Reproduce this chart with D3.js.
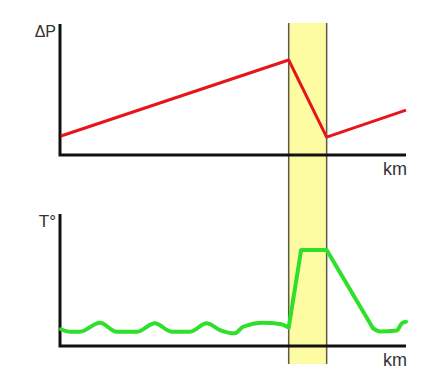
<!DOCTYPE html>
<html>
<head>
<meta charset="utf-8">
<script src="https://cdn.jsdelivr.net/npm/d3@7"></script>
<style>
  html, body { margin: 0; padding: 0; background: #fff; }
  #chart { width: 444px; height: 372px; }
</style>
</head>
<body>
<div id="chart"></div>
<script>
// distance along the route (0-100) and the shaded zone
const band = [66, 77];

// pressure difference (top panel)
const pressureKm = [0, 66, 77, 100];
const pressureVal = [1.45, 7.25, 1.37, 3.43];

// temperature (bottom panel), wavy part before the zone
const tempKmA = [0, 2.6, 5.5, 11.3, 16.1, 21.9, 27.2, 32.1, 37.4, 42.2, 46.1, 50.4, 52.8, 58.6, 63.5, 66];
const tempValA = [1.27, 1.08, 1.08, 1.77, 1.08, 1.08, 1.72, 1.08, 1.08, 1.72, 1.21, 0.96, 1.46, 1.77, 1.67, 1.4];
// the jump through the zone
const tempKmB = [66, 69.6, 77, 90.4];
const tempValB = [1.4, 7.27, 7.27, 1.36];
// tail after the zone
const tempKmC = [90.4, 92.5, 97.3, 98.8, 100];
const tempValC = [1.36, 1.1, 1.17, 1.72, 1.84];

const svg = d3.select('#chart')
  .append('svg')
  .attr('width', 444)
  .attr('height', 372);

const x = d3.scaleLinear().domain([0, 100]).range([61, 406]);
const yTop = d3.scaleLinear().domain([0, 10]).range([155, 24]);
const yBot = d3.scaleLinear().domain([0, 10]).range([346, 214]);

// yellow zone spanning both panels
svg.append('rect')
  .attr('x', x(band[0]))
  .attr('y', 23)
  .attr('width', x(band[1]) - x(band[0]))
  .attr('height', 364 - 23)
  .attr('fill', '#fdfca2');

band.forEach(b => {
  svg.append('line')
    .attr('x1', x(b)).attr('x2', x(b))
    .attr('y1', 23).attr('y2', 364)
    .attr('stroke', '#5e5a48')
    .attr('stroke-width', 1.5);
});

const zip = (xs, ys) => xs.map((d, i) => [d, ys[i]]);

function drawAxes(y, label, labelSize) {
  const [y0, y1] = y.range();
  svg.append('path')
    .attr('d', `M${x(0) - 1},${y1} V${y0} H${x(100)}`)
    .attr('fill', 'none')
    .attr('stroke', '#111')
    .attr('stroke-width', 3);

  svg.append('text')
    .attr('x', 56)
    .attr('y', y1 + 13)
    .attr('text-anchor', 'end')
    .style('font-family', 'Liberation Sans, Arial, sans-serif')
    .style('font-size', labelSize + 'px')
    .style('fill', '#333')
    .text(label);

  svg.append('text')
    .attr('x', x(100) + 1)
    .attr('y', y0 + 20)
    .attr('text-anchor', 'end')
    .style('font-family', 'Liberation Sans, Arial, sans-serif')
    .style('font-size', '18px')
    .style('fill', '#333')
    .text('km');
}

drawAxes(yTop, 'ΔP', 16);
drawAxes(yBot, 'T°', 17);

const lineTop = d3.line().x(d => x(d[0])).y(d => yTop(d[1]));
svg.append('path')
  .datum(zip(pressureKm, pressureVal))
  .attr('d', lineTop)
  .attr('fill', 'none')
  .attr('stroke', '#e8141b')
  .attr('stroke-width', 3)
  .attr('stroke-linejoin', 'round');

const smooth = d3.line().curve(d3.curveMonotoneX).x(d => x(d[0])).y(d => yBot(d[1]));
const straight = d3.line().x(d => x(d[0])).y(d => yBot(d[1]));

[
  [zip(tempKmA, tempValA), smooth],
  [zip(tempKmB, tempValB), straight],
  [zip(tempKmC, tempValC), smooth]
].forEach(([pts, gen]) => {
  svg.append('path')
    .datum(pts)
    .attr('d', gen)
    .attr('fill', 'none')
    .attr('stroke', '#2ee02a')
    .attr('stroke-width', 4)
    .attr('stroke-linejoin', 'round')
    .attr('stroke-linecap', 'round');
});
</script>
</body>
</html>
